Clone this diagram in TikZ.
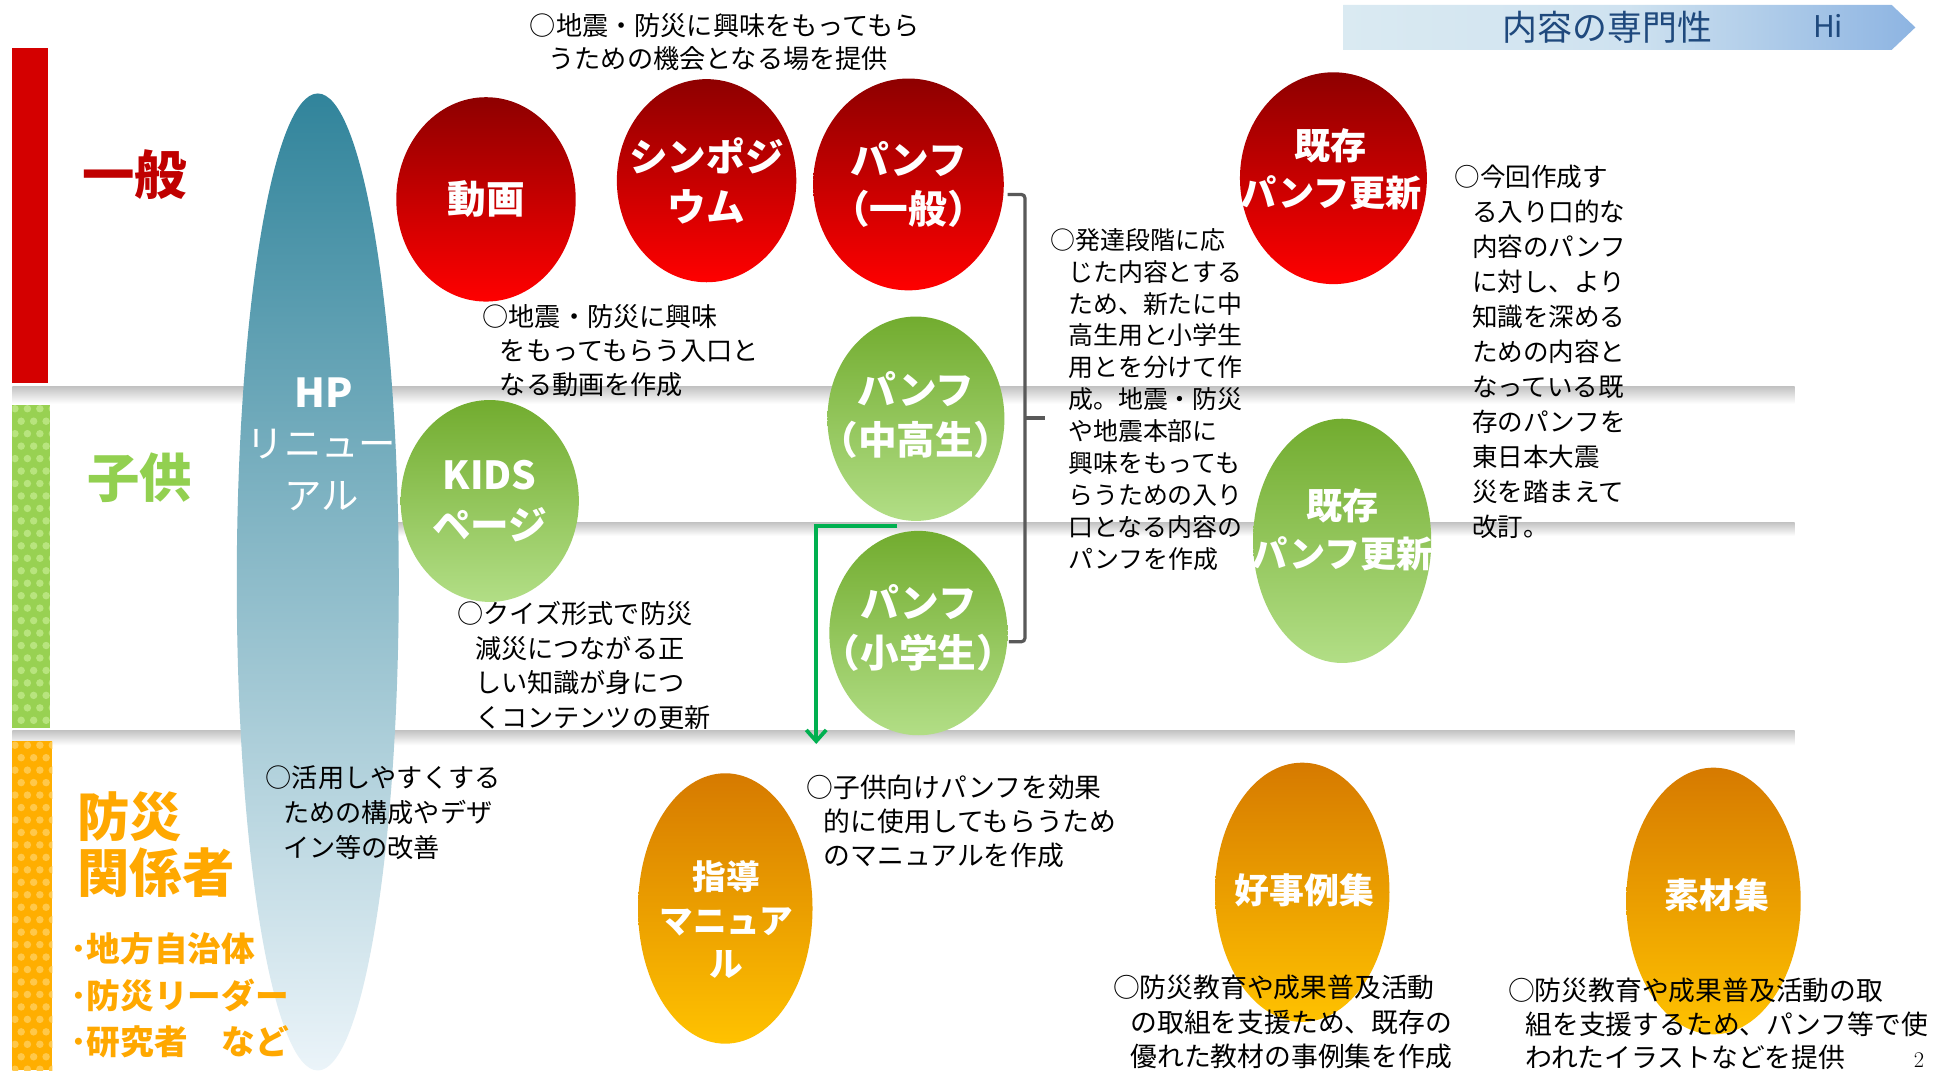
\documentclass[tikz,border=0pt]{standalone}
\usepackage{fontspec}
\newfontfamily\jpn{Noto Sans CJK JP}
\usetikzlibrary{shapes.geometric,arrows.meta,calc}
\definecolor{rtop}{HTML}{8E0000}
\definecolor{rbot}{HTML}{FF0000}
\definecolor{gtop}{HTML}{72AC2F}
\definecolor{gbot}{HTML}{B2DE86}
\definecolor{otop}{HTML}{D67A00}
\definecolor{obot}{HTML}{FFC200}
\definecolor{hptop}{HTML}{31849B}
\definecolor{hpbot}{HTML}{EBF4F9}
\definecolor{catred}{HTML}{C00000}
\definecolor{catgreen}{HTML}{92D050}
\definecolor{catorange}{HTML}{FFA800}
\definecolor{barred}{HTML}{D40000}
\definecolor{bargreen}{HTML}{98D152}
\definecolor{bargreenl}{HTML}{B8E47E}
\definecolor{barorange}{HTML}{FFAE00}
\definecolor{barorangel}{HTML}{FFC84A}
\definecolor{bannerl}{HTML}{DAEAF2}
\definecolor{bannerr}{HTML}{8DB4E2}
\definecolor{bannertext}{HTML}{1F497D}
\definecolor{brk}{HTML}{595959}
\definecolor{garrow}{HTML}{00B050}
\begin{document}
\begin{tikzpicture}[x=1pt,y=-1pt,
  oval/.style={ellipse, draw=none, inner sep=0pt, outer sep=0pt},
  redov/.style={oval, top color=rtop, bottom color=rbot},
  greenov/.style={oval, top color=gtop, bottom color=gbot},
  orangeov/.style={oval, top color=otop, bottom color=obot},
  lbl/.style={text=white, align=center, inner sep=0pt, font=\jpn\bfseries\fontsize{31}{40}\selectfont},
  note/.style={anchor=north west, inner sep=0pt, align=left, text=black},
  cat/.style={inner sep=0pt, align=left, font=\jpn\bfseries\fontsize{42}{45}\selectfont},
  band/.style={top color=black!24, bottom color=white, draw=none},
  brkline/.style={draw=brk, line width=2.6pt, rounded corners=3pt},
  garr/.style={draw=garrow, line width=3pt, -{Straight Barb[length=9pt,width=16pt,line width=3pt]}}
]
\useasboundingbox (0,0) rectangle (1568,859);
\fill[white] (0,0) rectangle (1568,859);

% separator bands
\shade[band] (10,310) rectangle (1440,324);
\shade[band] (255,419) rectangle (1440,430);
\shade[band] (10,586) rectangle (1440,598);

% left bars
\fill[barred] (10,38.5) rectangle (38.5,307);
\fill[bargreen] (10,325) rectangle (40,584);
\begin{scope}
\clip (10,325) rectangle (40,584);
\foreach \r in {0,...,26}{
  \foreach \c in {0,1,2,3}{
    \fill[bargreenl] ({12+\c*10+mod(\r,2)*5},{328+\r*10}) circle (3);
  }
}
\end{scope}
\fill[barorange] (10,595) rectangle (42,859);
\begin{scope}
\clip (10,595) rectangle (42,859);
\foreach \r in {0,...,27}{
  \foreach \c in {0,1,2,3}{
    \fill[barorangel] ({12+\c*10+mod(\r,2)*5},{598+\r*10}) circle (3);
  }
}
\end{scope}

% top banner
\shade[left color=bannerl, right color=bannerr, middle color=bannerl!85!bannerr]
  (1078,4) -- (1518,4) -- (1537,22) -- (1518,40) -- (1078,40) -- cycle;
\node[text=bannertext, font=\jpn\fontsize{28}{30}\selectfont, inner sep=0pt] (banner) at (1290,22) {内容の専門性};
\node[text=bannertext, font=\jpn\fontsize{24}{26}\selectfont, inner sep=0pt] (hi) at (1467,21) {Hi};

% HP ellipse
\node[oval, top color=hptop, bottom color=hpbot, minimum width=130, minimum height=784] (hp) at (255,467) {};
\node[text=white, inner sep=0pt, font=\jpn\bfseries\fontsize{32}{34}\selectfont] (hp-t1) at (260,315) {HP};
\node[text=white, inner sep=0pt, align=center, font=\jpn\fontsize{30}{42}\selectfont] (hp-t2) at (258,377) {リニュー\\アル};

% category labels
\node[cat, text=catred] (c-ippan) at (108,140) {一般};
\node[cat, text=catgreen] (c-kodomo) at (112,383) {子供};
\node[cat, text=catorange, anchor=north west] (c-bousai) at (62,635) {防災\\関係者};
\node[anchor=north west, inner sep=0pt, align=left, text=catorange, font=\jpn\bfseries\fontsize{27}{37.5}\selectfont] (c-list) at (56,748) {･地方自治体\\･防災リーダー\\･研究者　など};

% red ovals
\node[redov, minimum width=144, minimum height=164] (douga) at (390,160) {};
\node[lbl] (douga-t) at (douga.center) {動画};
\node[redov, minimum width=144, minimum height=163] (sympo) at (567,145) {};
\node[lbl] (sympo-t) at (sympo.center) {シンポジ\\ウム};
\node[redov, minimum width=153, minimum height=170] (pan1) at (729,148) {};
\node[lbl] (pan1-t) at (pan1.center) {パンフ\\（一般）};
\node[redov, minimum width=150, minimum height=170] (kizon1) at (1070,143) {};
\node[lbl, font=\jpn\bfseries\fontsize{29}{38}\selectfont] (kizon1-t) at (1068,136) {既存\\パンフ更新};

% green ovals
\node[greenov, minimum width=143, minimum height=162] (kids) at (393,402) {};
\node[lbl] (kids-t) at (kids.center) {KIDS\\ページ};
\node[greenov, minimum width=142, minimum height=164] (pan2) at (735,336) {};
\node[lbl] (pan2-t) at (735,333) {パンフ\\（中高生）};
\node[greenov, minimum width=143, minimum height=164] (pan3) at (737,508) {};
\node[lbl] (pan3-t) at (737,504) {パンフ\\（小学生）};
\node[greenov, minimum width=143, minimum height=196] (kizon2) at (1077,434) {};
\node[lbl, font=\jpn\bfseries\fontsize{29}{38}\selectfont] (kizon2-t) at (1077,425) {既存\\パンフ更新};

% orange ovals
\node[orangeov, minimum width=140, minimum height=217] (shidou) at (582,729) {};
\node[lbl, font=\jpn\bfseries\fontsize{27}{35}\selectfont] (shidou-t) at (583,738) {指導\\マニュア\\ル};
\node[orangeov, minimum width=140, minimum height=208] (koujirei) at (1045,716) {};
\node[lbl, font=\jpn\bfseries\fontsize{28}{32}\selectfont] (koujirei-t) at (1047,714) {好事例集};
\node[orangeov, minimum width=140, minimum height=214] (sozai) at (1375,723) {};
\node[lbl, font=\jpn\bfseries\fontsize{28}{32}\selectfont] (sozai-t) at (1378,718) {素材集};

% bracket
\coordinate (bt) at ([xshift=3pt,yshift=-8pt]pan1.east);
\coordinate (bb) at ([xshift=1pt,yshift=-7pt]pan3.east);
\draw[brkline] (bt) -- ++(14,0) coordinate (btc) |- (bb);
\coordinate (bm) at ($(btc)!0.5!(btc|-bb)$);
\draw[brkline] (bm) -- ++(16,0) coordinate (btick);

% green arrow
\coordinate (gstart) at ([xshift=-15pt,yshift=-4pt]pan2.south);
\coordinate (gend) at (655,597);
\draw[garr] (gstart) -| (gend);

% notes
\node[note, font=\jpn\fontsize{21}{27}\selectfont] (n-sympo) at (425,10.5) {○地震・防災に興味をもってもら\\\hspace*{15pt}うための機会となる場を提供};
\node[note, font=\jpn\fontsize{21}{27}\selectfont] (n-douga) at (387,244.5) {○地震・防災に興味\\\hspace*{14pt}をもってもらう入口と\\\hspace*{14pt}なる動画を作成};
\node[note, font=\jpn\fontsize{20}{25.6}\selectfont] (n-hattatsu) at (843,183) {○発達段階に応\\\hspace*{14pt}じた内容とする\\\hspace*{14pt}ため、新たに中\\\hspace*{14pt}高生用と小学生\\\hspace*{14pt}用とを分けて作\\\hspace*{14pt}成。地震・防災\\\hspace*{14pt}や地震本部に\\\hspace*{14pt}興味をもっても\\\hspace*{14pt}らうための入り\\\hspace*{14pt}口となる内容の\\\hspace*{14pt}パンフを作成};
\node[note, font=\jpn\fontsize{20.5}{28.1}\selectfont] (n-konkai) at (1167,132) {○今回作成す\\\hspace*{14pt}る入り口的な\\\hspace*{14pt}内容のパンフ\\\hspace*{14pt}に対し、より\\\hspace*{14pt}知識を深める\\\hspace*{14pt}ための内容と\\\hspace*{14pt}なっている既\\\hspace*{14pt}存のパンフを\\\hspace*{14pt}東日本大震\\\hspace*{14pt}災を踏まえて\\\hspace*{14pt}改訂。};
\node[note, font=\jpn\fontsize{21}{27.7}\selectfont] (n-quiz) at (367,482.5) {○クイズ形式で防災\\\hspace*{14pt}減災につながる正\\\hspace*{14pt}しい知識が身につ\\\hspace*{14pt}くコンテンツの更新};
\node[note, font=\jpn\fontsize{21}{28}\selectfont] (n-katsuyou) at (213,614.5) {○活用しやすくする\\\hspace*{14pt}ための構成やデザ\\\hspace*{14pt}イン等の改善};
\node[note, font=\jpn\fontsize{21.5}{27.5}\selectfont] (n-kodomo) at (647,621.5) {○子供向けパンフを効果\\\hspace*{14pt}的に使用してもらうため\\\hspace*{14pt}のマニュアルを作成};
\node[note, font=\jpn\fontsize{21.5}{27.5}\selectfont] (n-koujirei) at (893,782.5) {○防災教育や成果普及活動\\\hspace*{14pt}の取組を支援ため、既存の\\\hspace*{14pt}優れた教材の事例集を作成};
\node[note, font=\jpn\fontsize{21.5}{27}\selectfont] (n-sozai) at (1210,784.5) {○防災教育や成果普及活動の取\\\hspace*{14pt}組を支援するため、パンフ等で使\\\hspace*{14pt}われたイラストなどを提供};

% page number
\node[anchor=south, inner sep=0pt, font=\fontsize{18}{20}\selectfont] (pageno) at (1540,857) {2};
\end{tikzpicture}
\end{document}
